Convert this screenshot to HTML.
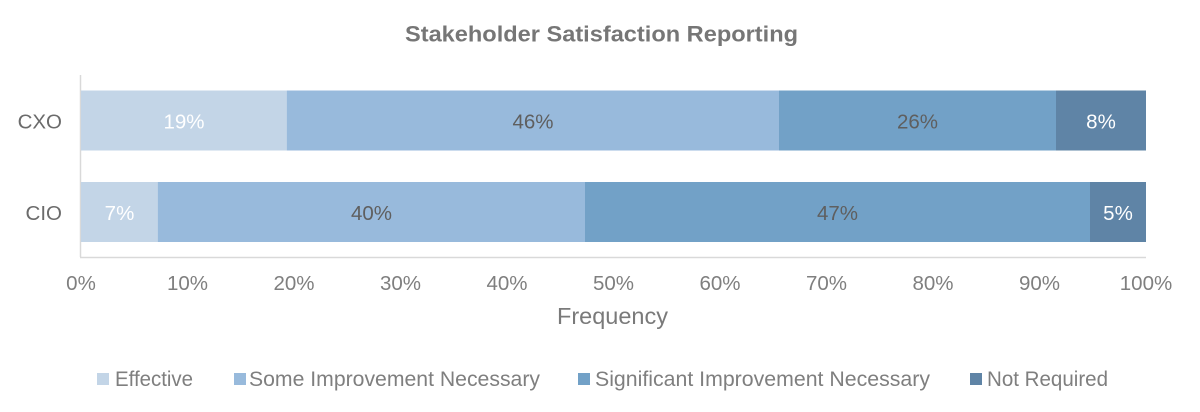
<!DOCTYPE html>
<html>
<head>
<meta charset="utf-8">
<style>
  html, body { margin: 0; padding: 0; background: #ffffff; }
  svg { display: block; }
  text { font-family: "Liberation Sans", Arial, sans-serif; }
</style>
</head>
<body>
<svg width="1200" height="412" viewBox="0 0 1200 412" xmlns="http://www.w3.org/2000/svg">
  <rect x="0" y="0" width="1200" height="412" fill="#ffffff"/>

  <!-- Title -->
  <text x="405" y="41.5" font-size="22" font-weight="bold" fill="#767676" textLength="393" lengthAdjust="spacingAndGlyphs">Stakeholder Satisfaction Reporting</text>

  <!-- Axes -->
  <line x1="80.5" y1="75" x2="80.5" y2="257" stroke="#d9d9d9" stroke-width="1.5"/>
  <line x1="80" y1="257.5" x2="1146" y2="257.5" stroke="#d9d9d9" stroke-width="1.5"/>

  <!-- CXO bar -->
  <rect x="81" y="90.5" width="205.7" height="60" fill="#c3d5e7"/>
  <rect x="286.7" y="90.5" width="492.3" height="60" fill="#98badc"/>
  <rect x="779" y="90.5" width="277" height="60" fill="#72a1c7"/>
  <rect x="1056" y="90.5" width="90" height="60" fill="#5f84a6"/>

  <!-- CIO bar -->
  <rect x="81" y="182" width="76.7" height="60" fill="#c3d5e7"/>
  <rect x="157.7" y="182" width="427.3" height="60" fill="#98badc"/>
  <rect x="585" y="182" width="505" height="60" fill="#72a1c7"/>
  <rect x="1090" y="182" width="56" height="60" fill="#5f84a6"/>

  <!-- Bar labels -->
  <g font-size="20.5" text-anchor="middle">
    <text x="184" y="128.5" fill="#ffffff">19%</text>
    <text x="533" y="128.5" fill="#5f5f5f">46%</text>
    <text x="917.5" y="128.5" fill="#5f5f5f">26%</text>
    <text x="1101" y="128.5" fill="#ffffff">8%</text>

    <text x="119.5" y="220" fill="#ffffff">7%</text>
    <text x="371.5" y="220" fill="#5f5f5f">40%</text>
    <text x="837.5" y="220" fill="#5f5f5f">47%</text>
    <text x="1118" y="220" fill="#ffffff">5%</text>
  </g>

  <!-- Category labels -->
  <g font-size="20.5" text-anchor="end" fill="#6b6b6b">
    <text x="62" y="128.5">CXO</text>
    <text x="62" y="220">CIO</text>
  </g>

  <!-- X tick labels -->
  <g font-size="20.5" text-anchor="middle" fill="#7f7f7f">
    <text x="81" y="290">0%</text>
    <text x="187.5" y="290">10%</text>
    <text x="294" y="290">20%</text>
    <text x="400.5" y="290">30%</text>
    <text x="507" y="290">40%</text>
    <text x="613.5" y="290">50%</text>
    <text x="720" y="290">60%</text>
    <text x="826.5" y="290">70%</text>
    <text x="933" y="290">80%</text>
    <text x="1039.5" y="290">90%</text>
    <text x="1146" y="290">100%</text>
  </g>

  <!-- Axis title -->
  <text x="557" y="324" font-size="23" fill="#7a7a7a" textLength="111" lengthAdjust="spacingAndGlyphs">Frequency</text>

  <!-- Legend -->
  <g font-size="21" fill="#7f7f7f">
    <rect x="97" y="373" width="12" height="12" fill="#c3d5e7"/>
    <text x="115" y="386" textLength="78" lengthAdjust="spacingAndGlyphs">Effective</text>

    <rect x="234" y="373" width="12" height="12" fill="#98badc"/>
    <text x="249" y="386" textLength="291" lengthAdjust="spacingAndGlyphs">Some Improvement Necessary</text>

    <rect x="578" y="373" width="12" height="12" fill="#72a1c7"/>
    <text x="595" y="386" textLength="335" lengthAdjust="spacingAndGlyphs">Significant Improvement Necessary</text>

    <rect x="970" y="373" width="12" height="12" fill="#5f84a6"/>
    <text x="987" y="386" textLength="121" lengthAdjust="spacingAndGlyphs">Not Required</text>
  </g>
</svg>
</body>
</html>
